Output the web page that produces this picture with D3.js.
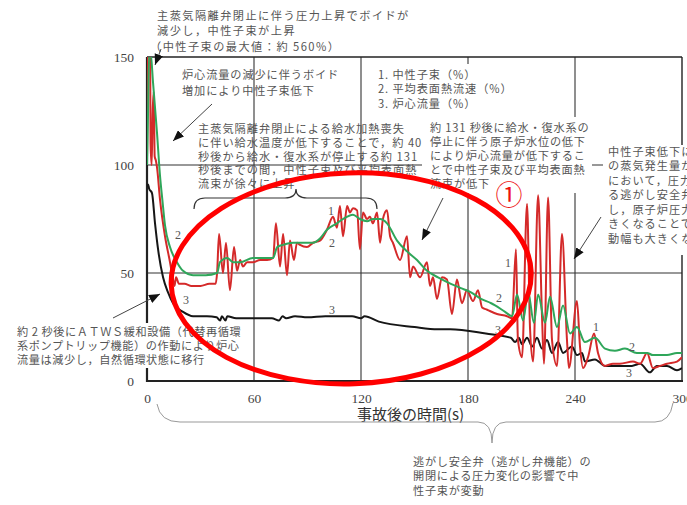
<!DOCTYPE html>
<html><head><meta charset="utf-8">
<script src="https://cdn.jsdelivr.net/npm/d3@7"></script>
<style>
html,body{margin:0;padding:0;background:#fff;}
svg{display:block;}
</style></head>
<body><svg id="c" width="687" height="505"></svg>
<script>
// ---------- data ----------
const xTicks = [0, 60, 120, 180, 240, 300];
const yTicks = [0, 50, 100, 150];

// 1. neutron flux (%)
const fluxT = [0,0.6,1.0,1.5,2.0,2.6,3.2,3.8,4.3,5.0,5.6,7.3,10.1,12.9,14.6,15.4,16.3,17.9,21,25,30,35,38.5,
 39.3,40.4,42.6,44.3,46.5,48.8,50.5,52.2,53.8,56.1,59.4,63.4,67.3,70.7,72.3,74.6,76.3,78.5,80.2,82.4,84.1,85.8,89.7,93.1,97,
 100.9,104.3,106.5,108.2,109.9,112.2,113.8,115.5,117.8,119.4,121.1,123.4,125,126.7,129,130.7,132.3,134.6,136.3,137.9,141.9,
 145.8,147.5,149.2,153.1,157,158.7,160.4,162.6,165.4,168.2,171,173.8,176.6,179.4,182.8,185.6,187.9,190.7,196.3,201.9,204.7,
 206.9,208,210.3,213.1,214.8,216.5,219.3,221.5,222.6,224.9,227.1,229.9,232.7,235.5,236.6,241.1,242.8,244.5,247.3,250.7,
 252.9,256.8,261.3,265.2,272.5,276.5,280.4,283.7,287.7,291.6,297.2,300];
const fluxV = [100,200,560,200,110,100,125,134,104,102,99,84,67,55,47,44,48,45,45,44,44,45,45,
 50,68,50,64,42,62,51,56,53,55,55,56,56,57,73,53,68,49,65,56,64,63,62,64,65,
 70,76,71,81,67,81,78,80,79,61,78,75,76,73,78,64,75,79,67,64,56,
 67,48,53,48,55,44,48,38,48,47,31,47,36,42,37,42,34,33,31,30,29,
 61,19,11,82,24,9,86,30,8,85,19,7,68,19,6,37,16,6,11,22,
 13,7,8,8,9,8,13,6,7,8,9,11];

// 2. average surface heat flux (%)
const heatT = [0,0.6,1.2,2.0,3.4,5.6,7.3,8.6,10.1,12.9,16.8,20.2,25.8,33,39.3,40.9,44.9,48.3,52.2,59.4,67.3,70.7,73,76.3,
 81.9,87.5,93.1,97,100.9,106.5,109.9,115.5,119.4,123.4,126.7,130.7,134.6,140.2,145.8,151.4,157,163.2,170.4,176,181.7,187.3,
 193,195.2,200.8,204.7,207.5,210.9,213.7,217,219.3,223.2,226,229.9,233.3,237.2,241.1,245.6,251.2,256.8,262.4,268,274.7,
 280.4,283.7,291.6,297.2,300];
const heatV = [100,125,152,152,138,115,95,84,72,62,55,51,49,49,50,55,57,55,55,57,57,57,62,63,
 64,64,64,66,70,73,75,77,75,74,75,75,73,65,60,56,51,48,45,43,41,38,
 36,35,32,30,40,28,41,27,40,27,39,25,35,22,25,18,20,15,14,15,13,
 13,12,12,13,13];

// 3. core flow (%)
const flowT = [0,0.6,1.2,2.8,4.5,6.2,9,11.8,14.6,20.2,25.8,33.6,39,41,42,44,45,50,56,70,74,76,78,83,90,100,110,115,120,122,
 130,150,163,170,190,204,206.4,208.5,210.3,213.1,216,218.7,221.5,224.3,227.1,230.5,233.3,238.3,241.1,243.9,245.6,251.2,
 256.8,262.4,271.9,276.5,282,285.9,291.6,297.2,300];
const flowV = [90,91,89,87,73,61,48,41,36,32,30,30,29.5,28,30,28,30,29,29,29,28,30,29,30,29.5,30,30,30,29,30,
 27.5,25,24,24,22,20,18,20,17,20,16,20,15,19,13,18,13,16,12,13,9,10,
 7,7,7,8,4,7,7,5,6];

// curve number labels
const curveLabelText = ["2","3","1","2","3","1","2","3","1","2","3"];
const curveLabelT = [17.4,21.9,103.2,103.7,103.7,202.4,197.4,196.8,251.8,272,270.3];
const curveLabelV = [67.6,37.5,78.7,63.9,32.9,54.6,38.4,23.6,25,15.7,3.7];

const legendLines = ["1. 中性子束（%）","2. 平均表面熱流速（%）","3. 炉心流量（%）"];
const xTitle = "事故後の時間(s)";

// ---------- drawing ----------
const svg = d3.select("#c");
const L = 147, R = 682, T = 57, B = 381;
const x = d3.scaleLinear().domain([0,300]).range([L,R]);
const y = d3.scaleLinear().domain([0,150]).range([B,T]);

const defs = svg.append("defs");
defs.append("clipPath").attr("id","plot").append("rect")
  .attr("x",L).attr("y",T).attr("width",R-L).attr("height",B-T);
defs.append("marker").attr("id","ah").attr("viewBox","0 0 10 8")
  .attr("refX",10).attr("refY",4).attr("markerWidth",11).attr("markerHeight",9)
  .attr("markerUnits","userSpaceOnUse").attr("orient","auto")
  .append("path").attr("d","M0,0 L10,4 L0,8 Z").attr("fill","#111");

// gridlines
const grid = svg.append("g").attr("stroke","#333").attr("stroke-width",1.1);
xTicks.filter(t=>t>0 && t<300).forEach(t=>grid.append("line")
  .attr("x1",x(t)).attr("x2",x(t)).attr("y1",T).attr("y2",B));
yTicks.filter(t=>t>0 && t<150).forEach(t=>grid.append("line")
  .attr("x1",L).attr("x2",R).attr("y1",y(t)).attr("y2",y(t)));

// frame
svg.append("line").attr("x1",L).attr("x2",R).attr("y1",T).attr("y2",T).attr("stroke","#222").attr("stroke-width",1.6);
svg.append("line").attr("x1",R).attr("x2",R).attr("y1",T).attr("y2",B).attr("stroke","#222").attr("stroke-width",1.4);
svg.append("line").attr("x1",L).attr("x2",L).attr("y1",T).attr("y2",B+1).attr("stroke","#222").attr("stroke-width",2.2);
svg.append("line").attr("x1",L-1).attr("x2",R+1).attr("y1",B).attr("y2",B).attr("stroke","#222").attr("stroke-width",2.2);

// axes labels via d3 axes
const xa = svg.append("g").attr("transform",`translate(0,${B+9})`)
  .call(d3.axisBottom(x).tickValues(xTicks).tickSize(0).tickFormat(d3.format("d")));
xa.select(".domain").remove();
xa.selectAll("text").attr("font-family","'Liberation Serif','DejaVu Serif',serif").attr("font-size",13.5).attr("fill","#444");
const ya = svg.append("g").attr("transform",`translate(${L-10},0)`)
  .call(d3.axisLeft(y).tickValues(yTicks).tickSize(0).tickFormat(d3.format("d")));
ya.select(".domain").remove();
ya.selectAll("text").attr("font-family","'Liberation Serif','DejaVu Serif',serif").attr("font-size",13.5).attr("fill","#444");

svg.append("text").attr("x",357).attr("y",415).attr("dy","0.35em")
  .attr("font-family","'Noto Sans CJK JP',sans-serif").attr("font-size",15).attr("fill","#333")
  .text(xTitle);

// white-background annotation blocks
const jp = "'Noto Sans CJK JP','Noto Sans CJK SC',sans-serif";
function block(lines, x0, y0, lh, ls, bg, fs){
  if(bg) svg.append("rect").attr("x",bg[0]).attr("y",bg[1]).attr("width",bg[2]).attr("height",bg[3]).attr("fill","#fff");
  lines.forEach((s,i)=>svg.append("text").attr("x",x0).attr("y",y0+i*lh).attr("dy","0.35em")
    .attr("font-family",jp).attr("font-size",fs||11.2).attr("letter-spacing",ls)
    .attr("fill","#555").text(s));
}

block(["主蒸気隔離弁閉止に伴う圧力上昇でボイドが","減少し，中性子束が上昇"],157,16,15.5,1.45);
block(["（中性子束の最大値：約 560%）"],150,47,15,1.45);
block(["炉心流量の減少に伴うボイド","増加により中性子束低下"],182,75,16,0.9);
block(["主蒸気隔離弁閉止による給水加熱喪失","に伴い給水温度が低下することで，約 40",
       "秒後から給水・復水系が停止する約 131","秒後までの間，中性子束及び平均表面熱","流束が徐々に上昇"],
      198,129,13.8,1.0);
block(legendLines,378,75,14.5,0.9,[372,64,130,53]);
block(["約 131 秒後に給水・復水系の","停止に伴う原子炉水位の低下","により炉心流量が低下するこ",
       "とで中性子束及び平均表面熱","流束が低下"],430,128.5,13.8,0.8,[422,117,170,76]);
block(["中性子束低下により炉心","の蒸気発生量が減少","において，圧力変動によ","る逃がし安全弁が作動",
       "し，原子炉圧力の変動が大","きくなることで中性子束の","動幅も大きくなる"],608,152,14.5,1.0,[603,145,84,110]);
block(["約 2 秒後にＡＴＷＳ緩和設備（代替再循環","系ポンプトリップ機能）の作動により炉心",
       "流量は減少し，自然循環状態に移行"],17,332,14,0.55,[12,323,236,45]);
block(["逃がし安全弁（逃がし弁機能）の","開閉による圧力変化の影響で中","性子束が変動"],
      413,462,14.5,0.7);

// curves
const curves = svg.append("g").attr("clip-path","url(#plot)");
const line = d3.line().x(d=>x(d[0])).y(d=>y(d[1])).curve(d3.curveMonotoneX);
const series = [
  {t:flowT, v:flowV, c:"#161616"},
  {t:heatT, v:heatV, c:"#2fa65a"},
  {t:fluxT, v:fluxV, c:"#d42a2a"}
];
[series[0], series[2], series[1]].forEach(s=>{
  curves.append("path").datum(s.t.map((t,i)=>[t,s.v[i]]))
    .attr("d",line).attr("fill","none").attr("stroke",s.c).attr("stroke-width",2)
    .attr("stroke-linejoin","round");
});

// curve number labels
curveLabelText.forEach((s,i)=>svg.append("text")
  .attr("x",x(curveLabelT[i])).attr("y",y(curveLabelV[i])).attr("dy","0.35em").attr("text-anchor","middle")
  .attr("font-family","'Liberation Serif','DejaVu Serif',serif").attr("font-size",12).attr("fill","#555").text(s));

// arrows
const arrows = [[161,49,155,65],[212,104,173,141],[443,198,422,240],[601,217,574,259],[113,318,160,294]];
arrows.forEach(a=>svg.append("line").attr("x1",a[0]).attr("y1",a[1]).attr("x2",a[2]).attr("y2",a[3])
  .attr("stroke","#444").attr("stroke-width",1).attr("marker-end","url(#ah)"));

// braces
svg.append("path").attr("d","M194,209 Q194,198 205,198 L285,198 Q296,198 296,189 Q296,198 307,198 L366,198 Q377,198 377,209")
  .attr("fill","none").attr("stroke","#333").attr("stroke-width",1.2);
svg.append("path").attr("d","M157,404 Q160,422 180,422 L478,422 Q492,422 492,443 Q492,422 506,422 L655,422 Q670,422 673,403")
  .attr("fill","none").attr("stroke","#999").attr("stroke-width",1);

// hand-drawn red ellipse and circled number
svg.append("ellipse").attr("cx",x(114.5)).attr("cy",y(47.5)).attr("rx",x(101)-x(0)).attr("ry",y(0)-y(48.8))
  .attr("transform",`rotate(-2 ${x(114.5)} ${y(47.5)})`)
  .attr("fill","none").attr("stroke","#ff0000").attr("stroke-width",5);
svg.append("text").attr("x",509).attr("y",196).attr("dy","0.35em").attr("text-anchor","middle")
  .attr("font-family","'DejaVu Serif','Noto Sans CJK JP',serif").attr("font-size",27).attr("fill","#ee1111").text("①");
</script></body></html>
